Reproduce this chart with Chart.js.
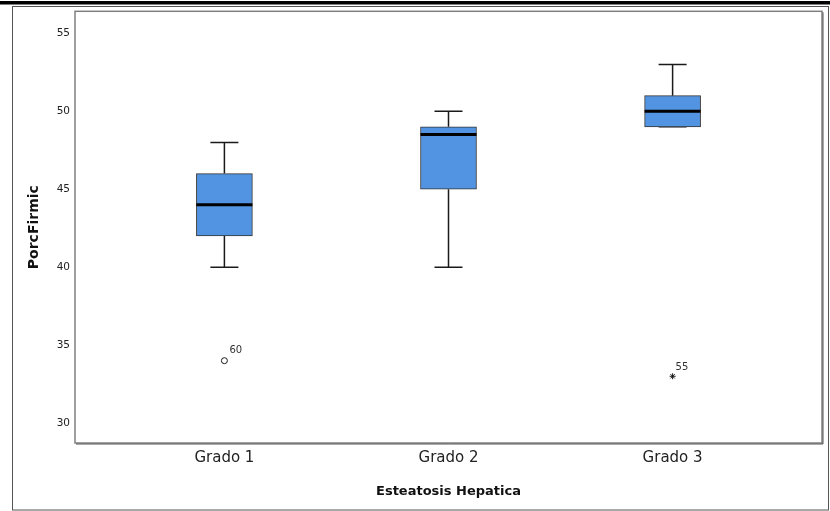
<!DOCTYPE html>
<html>
<head>
<meta charset="utf-8">
<script src="https://cdn.jsdelivr.net/npm/chart.js@4.4.1/dist/chart.umd.min.js"></script>
<style>
  html, body { margin: 0; padding: 0; background: #fff; }
</style>
</head>
<body>
<canvas id="grafica" width="830" height="511"></canvas>
<script>
const categorias = ['Grado 1', 'Grado 2', 'Grado 3'];
const posiciones = [1, 2, 3];
const minimos = [40, 40, 49];
const cuartil1 = [42, 45, 49];
const medianas = [44, 48.5, 50];
const cuartil3 = [46, 49, 51];
const maximos = [48, 50, 53];

const atipicoGrupo = [1];
const atipicoValor = [34];
const atipicoCaso = ['60'];

const extremoGrupo = [3];
const extremoValor = [33];
const extremoCaso = ['55'];

const ticksY = [30, 35, 40, 45, 50, 55];

const COLOR_CAJA = '#5394e2';
const COLOR_LINEA = '#1a1a1a';

Chart.defaults.font.family = '"DejaVu Sans", sans-serif';
Chart.defaults.color = '#222';

const marcoPlugin = {
    id: 'marco',
    beforeDraw(chart) {
        const ctx = chart.ctx;
        ctx.save();
        ctx.fillStyle = '#fff';
        ctx.fillRect(0, 0, chart.width, chart.height);
        // barra negra superior y marco exterior
        ctx.fillStyle = '#000';
        ctx.fillRect(0, 1, chart.width, 3.5);
        ctx.strokeStyle = '#555';
        ctx.lineWidth = 1;
        ctx.strokeRect(12.5, 6.5, chart.width - 14, chart.height - 7.5);
        ctx.restore();
    },
    beforeDatasetsDraw(chart) {
        const { ctx, chartArea: a } = chart;
        ctx.save();
        ctx.strokeStyle = '#808080';
        ctx.lineWidth = 1.5;
        ctx.strokeRect(a.left, a.top, a.right - a.left, a.bottom - a.top);
        // sombra del borde derecho
        ctx.strokeStyle = '#555';
        ctx.lineWidth = 1;
        ctx.beginPath();
        ctx.moveTo(a.right + 1, a.top + 1);
        ctx.lineTo(a.right + 1, a.bottom + 1);
        ctx.lineTo(a.left + 1, a.bottom + 1);
        ctx.stroke();
        ctx.restore();
    }
};

const cajasPlugin = {
    id: 'cajas',
    beforeDatasetsDraw(chart) {
        const ctx = chart.ctx;
        const y = chart.scales.y;
        const barras = chart.getDatasetMeta(0).data;
        ctx.save();
        ctx.strokeStyle = COLOR_LINEA;
        ctx.lineWidth = 1.5;
        barras.forEach((barra, i) => {
            const cx = barra.x;
            const medio = barra.width / 4;
            const yMin = y.getPixelForValue(minimos[i]);
            const yMax = y.getPixelForValue(maximos[i]);
            ctx.beginPath();
            ctx.moveTo(cx, yMax);
            ctx.lineTo(cx, y.getPixelForValue(cuartil3[i]));
            ctx.moveTo(cx, y.getPixelForValue(cuartil1[i]));
            ctx.lineTo(cx, yMin);
            ctx.moveTo(cx - medio, yMax);
            ctx.lineTo(cx + medio, yMax);
            ctx.moveTo(cx - medio, yMin);
            ctx.lineTo(cx + medio, yMin);
            ctx.stroke();
        });
        ctx.restore();
    },
    afterDatasetsDraw(chart) {
        const ctx = chart.ctx;
        const y = chart.scales.y;
        const barras = chart.getDatasetMeta(0).data;
        ctx.save();
        ctx.strokeStyle = '#000';
        ctx.lineWidth = 3;
        barras.forEach((barra, i) => {
            const yMed = y.getPixelForValue(medianas[i]);
            ctx.beginPath();
            ctx.moveTo(barra.x - barra.width / 2, yMed);
            ctx.lineTo(barra.x + barra.width / 2, yMed);
            ctx.stroke();
        });

        // etiquetas de casos atípicos (el círculo deja la etiqueta más alta que el asterisco)
        ctx.fillStyle = '#333';
        ctx.font = '10px "DejaVu Sans", sans-serif';
        ctx.textBaseline = 'alphabetic';
        ctx.textAlign = 'left';
        [[1, atipicoCaso, 5, -7.5], [2, extremoCaso, 3, -6]].forEach(([indice, casos, dx, dy]) => {
            chart.getDatasetMeta(indice).data.forEach((punto, i) => {
                ctx.fillText(casos[i], punto.x + dx, punto.y + dy);
            });
        });
        ctx.restore();
    }
};

new Chart(document.getElementById('grafica'), {
    type: 'bar',
    data: {
        datasets: [
            {
                type: 'bar',
                data: posiciones.map((p, i) => ({ x: p, y: [cuartil1[i], cuartil3[i]] })),
                backgroundColor: COLOR_CAJA,
                borderColor: '#333',
                borderWidth: 1,
                borderSkipped: false,
                barThickness: 56
            },
            {
                type: 'scatter',
                data: atipicoGrupo.map((g, i) => ({ x: g, y: atipicoValor[i] })),
                pointStyle: 'circle',
                radius: 3,
                borderWidth: 1,
                borderColor: COLOR_LINEA,
                backgroundColor: '#fff'
            },
            {
                type: 'scatter',
                data: extremoGrupo.map((g, i) => ({ x: g, y: extremoValor[i] })),
                pointStyle: 'star',
                radius: 3,
                borderWidth: 1,
                borderColor: COLOR_LINEA,
                backgroundColor: COLOR_LINEA
            }
        ]
    },
    options: {
        responsive: false,
        animation: false,
        layout: { padding: { left: 12, top: 11, right: 8, bottom: 0 } },
        plugins: {
            legend: { display: false },
            tooltip: { enabled: false }
        },
        scales: {
            x: {
                type: 'linear',
                offset: false,
                min: 1 / 3,
                max: 11 / 3,
                grid: { display: false, drawTicks: false },
                border: { display: false },
                afterBuildTicks: (s) => { s.ticks = posiciones.map(v => ({ value: v })); },
                afterFit: (s) => { s.height = 68; },
                ticks: {
                    padding: 6,
                    font: { size: 15 },
                    color: '#222',
                    callback: (v, i) => categorias[i]
                },
                title: {
                    display: true,
                    text: 'Esteatosis Hepatica',
                    font: { size: 13, weight: 'bold' },
                    color: '#111',
                    padding: { top: 0, bottom: 12 }
                }
            },
            y: {
                type: 'linear',
                min: 28.72,
                max: 56.41,
                beginAtZero: false,
                grid: { display: false, drawTicks: false },
                border: { display: false },
                afterBuildTicks: (s) => { s.ticks = ticksY.map(v => ({ value: v })); },
                afterFit: (s) => { s.width = 63; },
                ticks: {
                    padding: 5,
                    font: { size: 10.5 },
                    color: '#222'
                },
                title: {
                    display: true,
                    text: 'PorcFirmic',
                    font: { size: 14, weight: 'bold' },
                    color: '#111',
                    padding: { top: 13.6, bottom: 0 }
                }
            }
        }
    },
    plugins: [marcoPlugin, cajasPlugin]
});
</script>
</body>
</html>
